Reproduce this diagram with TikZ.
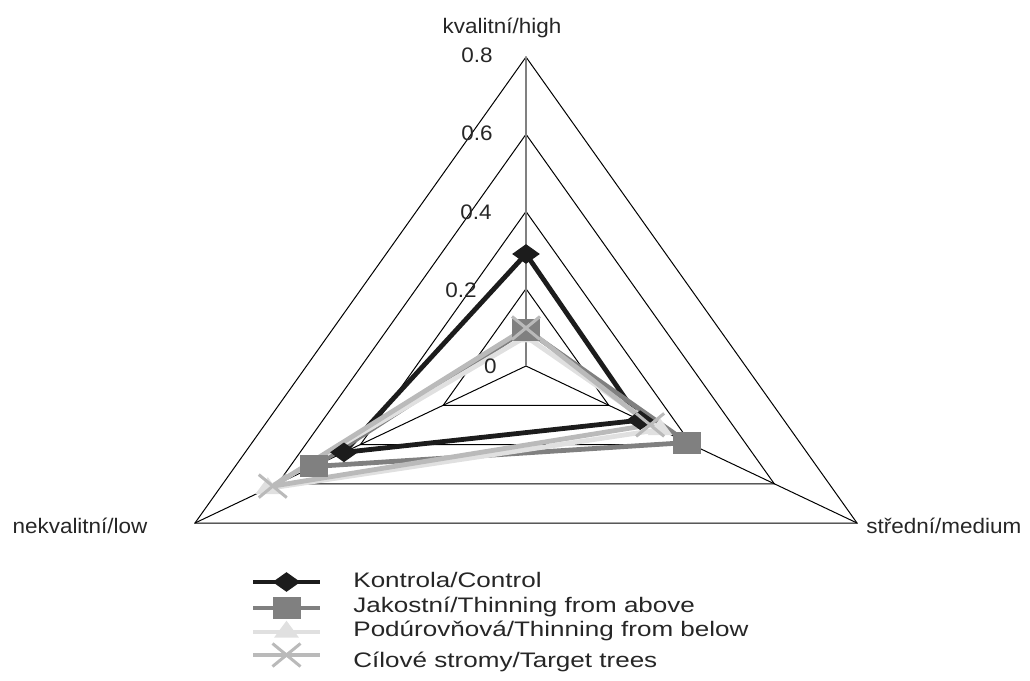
\documentclass[tikz,border=0pt]{standalone}
\usepackage{fontspec}
\setmainfont[FakeStretch=1.24]{Liberation Sans}
\newfontfamily\osafont[FakeStretch=1.07]{Liberation Sans}
\usetikzlibrary{calc,shapes.geometric,shapes.misc}
\definecolor{serK}{gray}{0.11}
\definecolor{serJ}{gray}{0.50}
\definecolor{serP}{gray}{0.88}
\definecolor{serC}{gray}{0.73}
\tikzstyle{mrizka} = [black,line width=0.5pt,line join=miter]
\tikzstyle{osa} = [black!50,line width=0.8pt]
\tikzstyle{popis} = [font=\fontsize{10.5}{12}\selectfont,inner sep=0pt,text=black!85]
\tikzstyle{popisosa} = [font=\osafont\fontsize{10.5}{12}\selectfont,inner sep=0pt,text=black!85]
\tikzstyle{serieK} = [serK,line width=2.4pt,line join=miter]
\tikzstyle{serieJ} = [serJ,line width=2.4pt,line join=miter]
\tikzstyle{serieP} = [serP,line width=2.4pt,line join=miter]
\tikzstyle{serieC} = [serC,line width=2.4pt,line join=miter]
\tikzstyle{znakK} = [diamond,fill=serK,minimum width=14pt,minimum height=10pt,inner sep=0pt]
\tikzstyle{znakJ} = [rectangle,fill=serJ,minimum width=14pt,minimum height=11pt,inner sep=0pt]
\tikzstyle{znakP} = [regular polygon,regular polygon sides=3,fill=serP,minimum size=11.3pt,inner sep=0pt,xscale=1.28]
\tikzstyle{znakC} = [cross out,draw=serC,line width=1.5pt,minimum width=12.5pt,minimum height=10pt,inner sep=0pt]

\begin{document}
\begin{tikzpicture}[x=0.5pt,y=-0.5pt]
\useasboundingbox (0,0) rectangle (1030,681);

% axes of the radar
\coordinate (O)   at (526,366);
\coordinate (hi8) at (526,57);
\coordinate (me8) at (857,523);
\coordinate (lo8) at (195,523);

\coordinate (hi2) at ($(O)!0.25!(hi8)$);
\coordinate (me2) at ($(O)!0.25!(me8)$);
\coordinate (lo2) at ($(O)!0.25!(lo8)$);
\coordinate (hi4) at ($(O)!0.5!(hi8)$);
\coordinate (me4) at ($(O)!0.5!(me8)$);
\coordinate (lo4) at ($(O)!0.5!(lo8)$);
\coordinate (hi6) at ($(O)!0.75!(hi8)$);
\coordinate (me6) at ($(O)!0.75!(me8)$);
\coordinate (lo6) at ($(O)!0.75!(lo8)$);

\draw[mrizka] (hi2) -- (me2) -- (lo2) -- cycle;
\draw[mrizka] (hi4) -- (me4) -- (lo4) -- cycle;
\draw[mrizka] (hi6) -- (me6) -- (lo6) -- cycle;
\draw[mrizka] (hi8) -- (me8) -- (lo8) -- cycle;
\draw[mrizka] (O) -- (me8);
\draw[mrizka] (O) -- (lo8);
\draw[osa] (O) -- (hi8);

% axis texts
\node (t_hi) [popisosa,anchor=base] at (502,33) {kvalitní/high};
\node (t_lo) [popisosa,anchor=base] at (80,533) {nekvalitní/low};
\node (t_me) [popisosa,anchor=base west] at (866,533) {střední/medium};

% data points
\coordinate (K_hi) at ($(O)!0.3625!(hi8)$);
\coordinate (K_me) at ($(O)!0.345!(me8)$);
\coordinate (K_lo) at ($(O)!0.55!(lo8)$);
\coordinate (J_hi) at ($(O)!0.118!(hi8)$);
\coordinate (J_me) at ($(O)!0.4875!(me8)$);
\coordinate (J_lo) at ($(O)!0.64!(lo8)$);
\coordinate (P_hi) at ($(O)!0.095!(hi8)$);
\coordinate (P_me) at ($(O)!0.405!(me8)$);
\coordinate (P_lo) at ($(O)!0.78!(lo8)$);
\coordinate (C_hi) at ($(O)!0.123!(hi8)$);
\coordinate (C_me) at ($(O)!0.375!(me8)$);
\coordinate (C_lo) at ($(O)!0.765!(lo8)$);

\draw[serieK] (K_hi) -- (K_me) -- (K_lo) -- cycle;
\draw[serieJ] (J_hi) -- (J_me) -- (J_lo) -- cycle;
\draw[serieP] (P_hi) -- (P_me) -- (P_lo) -- cycle;
\draw[serieC] (C_hi) -- (C_me) -- (C_lo) -- cycle;

\node (K_hi_m) [znakK] at (K_hi) {};
\node (K_me_m) [znakK] at (K_me) {};
\node (K_lo_m) [znakK] at (K_lo) {};
\node (P_hi_m) [znakP] at (P_hi) {};
\node (P_me_m) [znakP] at (P_me) {};
\node (P_lo_m) [znakP] at (P_lo) {};
\node (J_hi_m) [znakJ] at (J_hi) {};
\node (J_me_m) [znakJ] at (J_me) {};
\node (J_lo_m) [znakJ] at (J_lo) {};
\node (C_hi_m) [znakC] at (C_hi) {};
\node (C_me_m) [znakC] at (C_me) {};
\node (C_lo_m) [znakC] at (C_lo) {};

% value labels
\node (v8) [popisosa,anchor=base east] at (493,62) {0.8};
\node (v6) [popisosa,anchor=base east] at (493,140) {0.6};
\node (v4) [popisosa,anchor=base east] at (492,219) {0.4};
\node (v2) [popisosa,anchor=base east] at (477,297) {0.2};
\node (v0) [popisosa,anchor=base east] at (497,373) {0};

% legend
\coordinate (LK_a) at (253,582);
\coordinate (LK_b) at (320,582);
\coordinate (LJ_a) at (253,608);
\coordinate (LJ_b) at (320,608);
\coordinate (LP_a) at (253,632);
\coordinate (LP_b) at (320,632);
\coordinate (LC_a) at (253,655);
\coordinate (LC_b) at (320,655);

\draw[serieK,line width=2pt] (LK_a) -- (LK_b);
\draw[serieJ,line width=2pt] (LJ_a) -- (LJ_b);
\draw[serieP,line width=2pt] (LP_a) -- (LP_b);
\draw[serieC,line width=2pt] (LC_a) -- (LC_b);

\node (LK_m) [znakK] at ($(LK_a)!0.5!(LK_b)$) {};
\node (LJ_m) [znakJ] at ($(LJ_a)!0.5!(LJ_b)$) {};
\node (LP_m) [znakP] at ($(LP_a)!0.5!(LP_b)$) {};
\node (LC_m) [znakC] at ($(LC_a)!0.5!(LC_b)$) {};

\node (LK_t) [popis,anchor=base west] at (353,587) {Kontrola/Control};
\node (LJ_t) [popis,anchor=base west] at (353,612) {Jakostní/Thinning from above};
\node (LP_t) [popis,anchor=base west] at (353,636) {Podúrovňová/Thinning from below};
\node (LC_t) [popis,anchor=base west] at (353,667) {Cílové stromy/Target trees};

\end{tikzpicture}
\end{document}
